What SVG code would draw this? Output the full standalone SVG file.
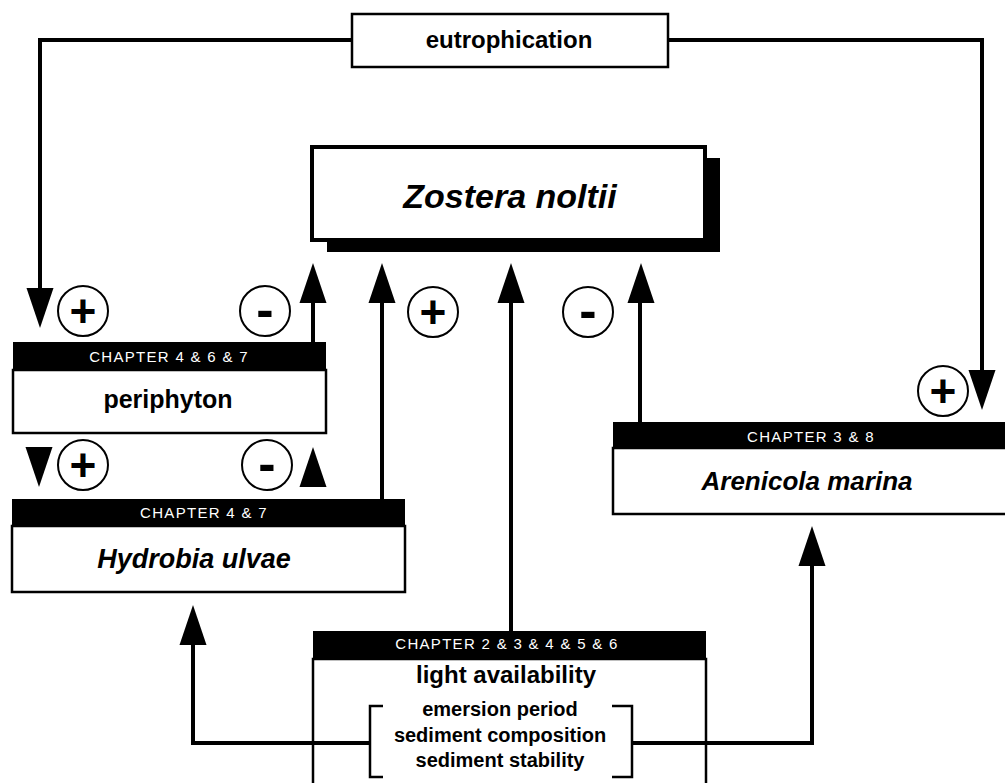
<svg xmlns="http://www.w3.org/2000/svg" width="1005" height="783" viewBox="0 0 1005 783">
<style>
text{font-family:"Liberation Sans",Arial,sans-serif;fill:#000;text-anchor:middle}
.box{fill:#fff;stroke:#000;stroke-width:2.5}
.band{fill:#000}
.chap{fill:#fff;font-size:15px;letter-spacing:1.3px}
.name{font-size:25px;font-weight:bold}
.sp{font-style:italic;font-weight:bold}
.sub{font-size:20px;font-weight:bold}
.ln{fill:none;stroke:#000;stroke-width:4}
.br{fill:none;stroke:#000;stroke-width:2.5}
.ah{fill:#000}
.sign{fill:#fff;stroke:#000;stroke-width:2}
.plus{font-size:46px;font-weight:bold}
.minus{font-size:52px;font-weight:bold}
</style>
<defs>
<path id="up" d="M0,0 L13.5,40 L-13.5,40 Z"/>
<path id="down" d="M0,0 L13.5,-40 L-13.5,-40 Z"/>
</defs>

<g id="eutrophication">
<rect class="box" x="352" y="14" width="316" height="53"/>
<text class="name" x="509" y="48" style="font-size:24px">eutrophication</text>
</g>

<g id="zostera">
<rect x="327" y="158" width="393" height="94" fill="#000"/>
<rect x="312" y="147" width="393" height="93" fill="#fff" stroke="#000" stroke-width="4"/>
<text class="sp" x="510" y="208" style="font-size:34px">Zostera  noltii</text>
</g>

<g id="periphyton">
<rect class="band" x="13" y="342" width="313" height="28"/>
<rect class="box" x="13" y="370" width="313" height="63"/>
<text class="chap" x="169" y="362">CHAPTER 4 &amp; 6 &amp; 7</text>
<text class="name" x="168" y="408">periphyton</text>
</g>

<g id="hydrobia">
<rect class="band" x="12" y="499" width="393" height="27"/>
<rect class="box" x="12" y="526" width="393" height="66"/>
<text class="chap" x="204" y="518">CHAPTER 4 &amp; 7</text>
<text class="sp" x="194" y="568" style="font-size:27px">Hydrobia  ulvae</text>
</g>

<g id="arenicola">
<rect class="band" x="613" y="422" width="400" height="26"/>
<rect class="box" x="613" y="448" width="400" height="66"/>
<text class="chap" x="811" y="442">CHAPTER 3 &amp; 8</text>
<text class="sp" x="807" y="490" style="font-size:26px">Arenicola  marina</text>
</g>

<g id="light">
<rect class="band" x="313" y="631" width="393" height="28"/>
<rect class="box" x="313" y="659" width="393" height="140"/>
<text class="chap" x="507" y="649">CHAPTER 2 &amp; 3 &amp; 4 &amp; 5 &amp; 6</text>
<text class="name" x="506" y="683" style="font-size:24px">light availability</text>
<path class="br" d="M383,706 H370 V777 H383"/>
<path class="br" d="M612,706 H632 V777 H612"/>
<text class="sub" x="500" y="716">emersion period</text>
<text class="sub" x="500" y="742">sediment composition</text>
<text class="sub" x="500" y="767">sediment stability</text>
</g>

<g id="connectors">
<path class="ln" d="M352,40 H40 V290"/>
<path class="ln" d="M668,40 H982 V372"/>
<path class="ln" d="M313,342 V300"/>
<path class="ln" d="M382,499 V300"/>
<path class="ln" d="M511,631 V300"/>
<path class="ln" d="M640,422 V300"/>
<path class="ln" d="M370,743 H193 V643"/>
<path class="ln" d="M632,743 H812 V564"/>
<use href="#down" class="ah" x="40" y="328"/>
<use href="#down" class="ah" x="982" y="410"/>
<use href="#up" class="ah" x="313" y="263"/>
<use href="#up" class="ah" x="382" y="263"/>
<use href="#up" class="ah" x="511" y="263"/>
<use href="#up" class="ah" x="641" y="263"/>
<use href="#down" class="ah" x="39" y="487"/>
<use href="#up" class="ah" x="313" y="447"/>
<use href="#up" class="ah" x="193" y="605"/>
<use href="#up" class="ah" x="812" y="526"/>
</g>

<g id="signs">
<circle class="sign" cx="83" cy="311" r="25"/><text class="plus" x="83" y="327">+</text>
<circle class="sign" cx="265" cy="311" r="25"/><text class="minus" x="265" y="327">-</text>
<circle class="sign" cx="433" cy="312" r="25"/><text class="plus" x="433" y="328">+</text>
<circle class="sign" cx="588" cy="312" r="25"/><text class="minus" x="588" y="328">-</text>
<circle class="sign" cx="83" cy="465" r="25"/><text class="plus" x="83" y="481">+</text>
<circle class="sign" cx="267" cy="465" r="25"/><text class="minus" x="267" y="481">-</text>
<circle class="sign" cx="943" cy="391" r="25"/><text class="plus" x="943" y="407">+</text>
</g>
</svg>
